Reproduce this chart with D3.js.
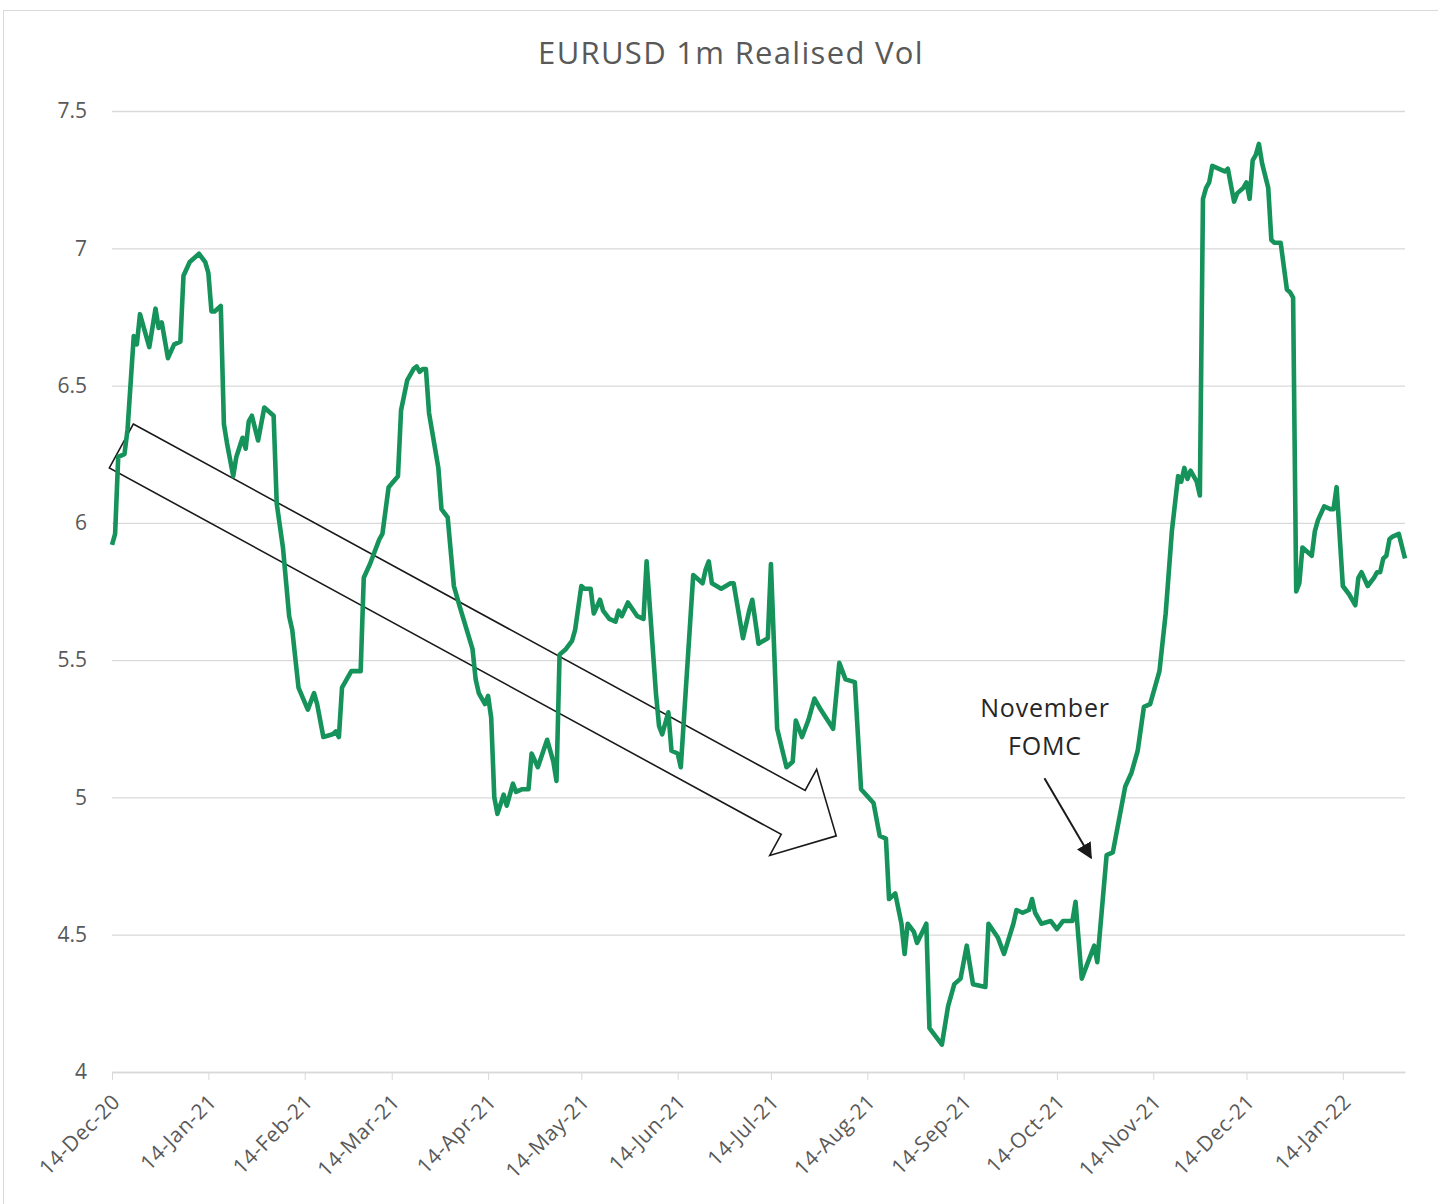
<!DOCTYPE html>
<html>
<head>
<meta charset="utf-8">
<script src="https://cdn.jsdelivr.net/npm/d3@7"></script>
<style>
  body { margin: 0; background: #fff; }
  svg { display: block; font-family: "Open Sans", Lato, sans-serif; }
</style>
</head>
<body>
<script>
// Chart values
var dates = [
  "2020-12-14","2020-12-15","2020-12-16","2020-12-18","2020-12-19","2020-12-21","2020-12-22","2020-12-23","2020-12-26","2020-12-28",
  "2020-12-29","2020-12-30","2021-01-01","2021-01-03","2021-01-05","2021-01-06","2021-01-08","2021-01-11","2021-01-13","2021-01-14",
  "2021-01-15","2021-01-16","2021-01-18","2021-01-19","2021-01-20","2021-01-22","2021-01-23","2021-01-25","2021-01-26","2021-01-27",
  "2021-01-28","2021-01-30","2021-02-01","2021-02-02","2021-02-04","2021-02-05","2021-02-07","2021-02-09","2021-02-10","2021-02-12",
  "2021-02-15","2021-02-17","2021-02-18","2021-02-20","2021-02-23","2021-02-24","2021-02-25","2021-02-26","2021-03-01","2021-03-04",
  "2021-03-05","2021-03-07","2021-03-10","2021-03-11","2021-03-13","2021-03-16","2021-03-17","2021-03-19","2021-03-21","2021-03-22",
  "2021-03-23","2021-03-24","2021-03-25","2021-03-26","2021-03-29","2021-03-30","2021-04-01","2021-04-03","2021-04-05","2021-04-09",
  "2021-04-10","2021-04-11","2021-04-13","2021-04-14","2021-04-15","2021-04-16","2021-04-17","2021-04-19","2021-04-20","2021-04-22",
  "2021-04-23","2021-04-25","2021-04-27","2021-04-28","2021-04-30","2021-05-03","2021-05-05","2021-05-06","2021-05-07","2021-05-09",
  "2021-05-11","2021-05-12","2021-05-14","2021-05-15","2021-05-17","2021-05-18","2021-05-20","2021-05-21","2021-05-23","2021-05-25",
  "2021-05-26","2021-05-27","2021-05-29","2021-06-01","2021-06-03","2021-06-04","2021-06-07","2021-06-08","2021-06-09","2021-06-11",
  "2021-06-12","2021-06-14","2021-06-15","2021-06-19","2021-06-20","2021-06-22","2021-06-23","2021-06-24","2021-06-25","2021-06-28",
  "2021-07-01","2021-07-02","2021-07-05","2021-07-07","2021-07-08","2021-07-10","2021-07-13","2021-07-14","2021-07-16","2021-07-19",
  "2021-07-21","2021-07-22","2021-07-24","2021-07-26","2021-07-28","2021-07-30","2021-08-03","2021-08-05","2021-08-07","2021-08-10",
  "2021-08-12","2021-08-16","2021-08-18","2021-08-20","2021-08-21","2021-08-23","2021-08-25","2021-08-26","2021-08-27","2021-08-29",
  "2021-08-30","2021-09-02","2021-09-03","2021-09-07","2021-09-09","2021-09-11","2021-09-13","2021-09-15","2021-09-17","2021-09-21",
  "2021-09-22","2021-09-25","2021-09-27","2021-09-30","2021-10-01","2021-10-03","2021-10-05","2021-10-06","2021-10-07","2021-10-09",
  "2021-10-12","2021-10-14","2021-10-16","2021-10-19","2021-10-20","2021-10-22","2021-10-24","2021-10-26","2021-10-27","2021-10-30",
  "2021-11-01","2021-11-03","2021-11-05","2021-11-07","2021-11-09","2021-11-11","2021-11-13","2021-11-16","2021-11-18","2021-11-20",
  "2021-11-22","2021-11-23","2021-11-24","2021-11-25","2021-11-26","2021-11-28","2021-11-29","2021-11-30","2021-12-01","2021-12-02",
  "2021-12-03","2021-12-05","2021-12-07","2021-12-08","2021-12-10","2021-12-11","2021-12-13","2021-12-14","2021-12-15","2021-12-16",
  "2021-12-17","2021-12-18","2021-12-19","2021-12-21","2021-12-22","2021-12-23","2021-12-25","2021-12-27","2021-12-28","2021-12-29",
  "2021-12-30","2021-12-31","2022-01-01","2022-01-03","2022-01-04","2022-01-05","2022-01-06","2022-01-08","2022-01-10","2022-01-11",
  "2022-01-12","2022-01-14","2022-01-16","2022-01-18","2022-01-19","2022-01-20","2022-01-22","2022-01-24","2022-01-25","2022-01-26",
  "2022-01-27","2022-01-28","2022-01-29","2022-01-30","2022-02-01","2022-02-03"
];

var vols = [
  5.92,5.96,6.24,6.25,6.34,6.68,6.65,6.76,6.64,6.78,
  6.71,6.73,6.60,6.65,6.66,6.90,6.95,6.98,6.95,6.91,
  6.77,6.77,6.79,6.36,6.29,6.17,6.24,6.31,6.27,6.37,
  6.39,6.30,6.42,6.41,6.39,6.07,5.91,5.66,5.61,5.40,
  5.32,5.38,5.34,5.22,5.23,5.24,5.22,5.40,5.46,5.46,
  5.80,5.85,5.94,5.96,6.13,6.17,6.41,6.52,6.56,6.57,
  6.55,6.56,6.56,6.40,6.20,6.05,6.02,5.77,5.69,5.54,
  5.43,5.38,5.34,5.37,5.29,5.00,4.94,5.01,4.97,5.05,
  5.02,5.03,5.03,5.16,5.11,5.21,5.13,5.06,5.52,5.54,
  5.57,5.61,5.77,5.76,5.76,5.67,5.72,5.68,5.65,5.64,
  5.68,5.66,5.71,5.66,5.65,5.86,5.38,5.26,5.23,5.31,
  5.17,5.16,5.11,5.81,5.80,5.78,5.83,5.86,5.78,5.76,
  5.78,5.78,5.58,5.68,5.72,5.56,5.58,5.85,5.25,5.11,
  5.13,5.28,5.22,5.28,5.36,5.32,5.25,5.49,5.43,5.42,
  5.03,4.98,4.86,4.85,4.63,4.65,4.54,4.43,4.54,4.51,
  4.47,4.54,4.16,4.10,4.24,4.32,4.34,4.46,4.32,4.31,
  4.54,4.49,4.43,4.54,4.59,4.58,4.59,4.63,4.58,4.54,
  4.55,4.52,4.55,4.55,4.62,4.34,4.40,4.46,4.40,4.79,
  4.80,4.92,5.04,5.09,5.17,5.33,5.34,5.46,5.67,5.97,
  6.17,6.15,6.20,6.16,6.19,6.15,6.10,7.18,7.22,7.24,
  7.30,7.29,7.28,7.29,7.17,7.20,7.22,7.24,7.18,7.32,
  7.34,7.38,7.31,7.22,7.03,7.02,7.02,6.85,6.84,6.82,
  5.75,5.78,5.91,5.89,5.88,5.97,6.01,6.06,6.05,6.05,
  6.13,5.77,5.74,5.70,5.80,5.82,5.77,5.80,5.82,5.82,
  5.87,5.88,5.94,5.95,5.96,5.87
];

var tickDates = ["2020-12-14","2021-01-14","2021-02-14","2021-03-14","2021-04-14","2021-05-14","2021-06-14",
                 "2021-07-14","2021-08-14","2021-09-14","2021-10-14","2021-11-14","2021-12-14","2022-01-14"];
var yTicks = [4, 4.5, 5, 5.5, 6, 6.5, 7, 7.5];

var titleText = "EURUSD 1m Realised Vol";
var fomcLines = ["November", "FOMC"];
// Annotation anchors in data space: [date, value]
var trendTail = ["2020-12-17", 6.28], trendTip = ["2021-08-04", 4.86];
var fomcFrom = ["2021-10-10", 5.07], fomcTo = ["2021-10-25", 4.78];

var width = 1438, height = 1204;
var parseDate = d3.timeParse("%Y-%m-%d");
var fmt = d3.timeFormat("%d-%b-%y");

var series = dates.map(function (d, i) { return { date: parseDate(d), value: vols[i] }; });

var svg = d3.select("body").append("svg")
    .attr("width", width)
    .attr("height", height);

// outer chart border
svg.append("rect")
    .attr("x", 3.5).attr("y", 10.5)
    .attr("width", width).attr("height", height)
    .attr("fill", "none").attr("stroke", "#d9d9d9");

var x = d3.scaleTime()
    .domain([parseDate("2020-12-14"), parseDate("2022-02-03")])
    .range([112, 1405]);

var y = d3.scaleLinear()
    .domain([4, 7.5])
    .range([1072, 111]);

// title
svg.append("text")
    .attr("x", 731).attr("y", 64)
    .attr("text-anchor", "middle")
    .attr("fill", "#595959")
    .style("font-size", "31px")
    .style("letter-spacing", "1.3px")
    .text(titleText);

// gridlines + y labels
var yAxis = svg.append("g")
    .attr("transform", "translate(112,0)")
    .call(d3.axisLeft(y).tickValues(yTicks).tickSize(-(1405 - 112)).tickPadding(25)
        .tickFormat(function (d) { return d3.format("")(d); }));
yAxis.select(".domain").remove();
yAxis.selectAll(".tick line").attr("stroke", "#d9d9d9").attr("stroke-width", 1.3);
yAxis.selectAll(".tick text")
    .attr("fill", "#595959")
    .style("font-size", "21px")
    .style("font-family", "'Open Sans', Lato, sans-serif");

// x axis with rotated date labels
var xAxis = svg.append("g")
    .attr("transform", "translate(0,1072)")
    .call(d3.axisBottom(x).tickValues(tickDates.map(parseDate)).tickSize(8).tickSizeOuter(0).tickFormat(fmt));
xAxis.select(".domain").attr("stroke", "#d9d9d9").attr("stroke-width", 1.5);
xAxis.selectAll(".tick line").attr("stroke", "#d9d9d9");
xAxis.selectAll(".tick text")
    .attr("fill", "#595959")
    .style("font-size", "21px")
    .style("letter-spacing", "0.6px")
    .style("font-family", "'Open Sans', Lato, sans-serif")
    .attr("text-anchor", "end")
    .attr("dy", null)
    .attr("y", 0)
    .attr("transform", "translate(9,31) rotate(-45)");

// trend arrow (hollow), built from its tail and tip in data space
function hollowArrow(tail, tip, shaftHalf, headHalf, headLen) {
    var x0 = x(parseDate(tail[0])), y0 = y(tail[1]);
    var x1 = x(parseDate(tip[0])), y1 = y(tip[1]);
    var len = Math.hypot(x1 - x0, y1 - y0);
    var ux = (x1 - x0) / len, uy = (y1 - y0) / len;
    var nx = -uy, ny = ux;
    var bx = x1 - ux * headLen, by = y1 - uy * headLen;
    return [
        [x0 - nx * shaftHalf, y0 - ny * shaftHalf],
        [bx - nx * shaftHalf, by - ny * shaftHalf],
        [bx - nx * headHalf, by - ny * headHalf],
        [x1, y1],
        [bx + nx * headHalf, by + ny * headHalf],
        [bx + nx * shaftHalf, by + ny * shaftHalf],
        [x0 + nx * shaftHalf, y0 + ny * shaftHalf]
    ];
}

svg.append("path")
    .attr("d", "M" + hollowArrow(trendTail, trendTip, 25, 49, 49).join("L") + "Z")
    .attr("fill", "none")
    .attr("stroke", "#1a1a1a")
    .attr("stroke-width", 1.6)
    .attr("stroke-linejoin", "miter");

// main vol line
var line = d3.line()
    .x(function (d) { return x(d.date); })
    .y(function (d) { return y(d.value); });

svg.append("path")
    .datum(series)
    .attr("d", line)
    .attr("fill", "none")
    .attr("stroke", "#15935a")
    .attr("stroke-width", 4.6)
    .attr("stroke-linejoin", "round");

// November FOMC annotation
svg.append("defs").append("marker")
    .attr("id", "tri")
    .attr("viewBox", "0 0 10 10")
    .attr("refX", 9).attr("refY", 5)
    .attr("markerWidth", 8).attr("markerHeight", 8)
    .attr("markerUnits", "strokeWidth")
    .attr("orient", "auto")
    .append("path").attr("d", "M0,0L10,5L0,10Z").attr("fill", "#1a1a1a");

svg.append("line")
    .attr("x1", x(parseDate(fomcFrom[0]))).attr("y1", y(fomcFrom[1]))
    .attr("x2", x(parseDate(fomcTo[0]))).attr("y2", y(fomcTo[1]))
    .attr("stroke", "#1a1a1a")
    .attr("stroke-width", 2)
    .attr("marker-end", "url(#tri)");

svg.append("g").selectAll("text")
    .data(fomcLines)
    .enter().append("text")
    .attr("x", 1045)
    .attr("y", function (d, i) { return 717 + i * 38; })
    .attr("text-anchor", "middle")
    .attr("fill", "#262626")
    .style("font-size", "25px")
    .style("letter-spacing", "0.8px")
    .text(function (d) { return d; });
</script>
</body>
</html>
